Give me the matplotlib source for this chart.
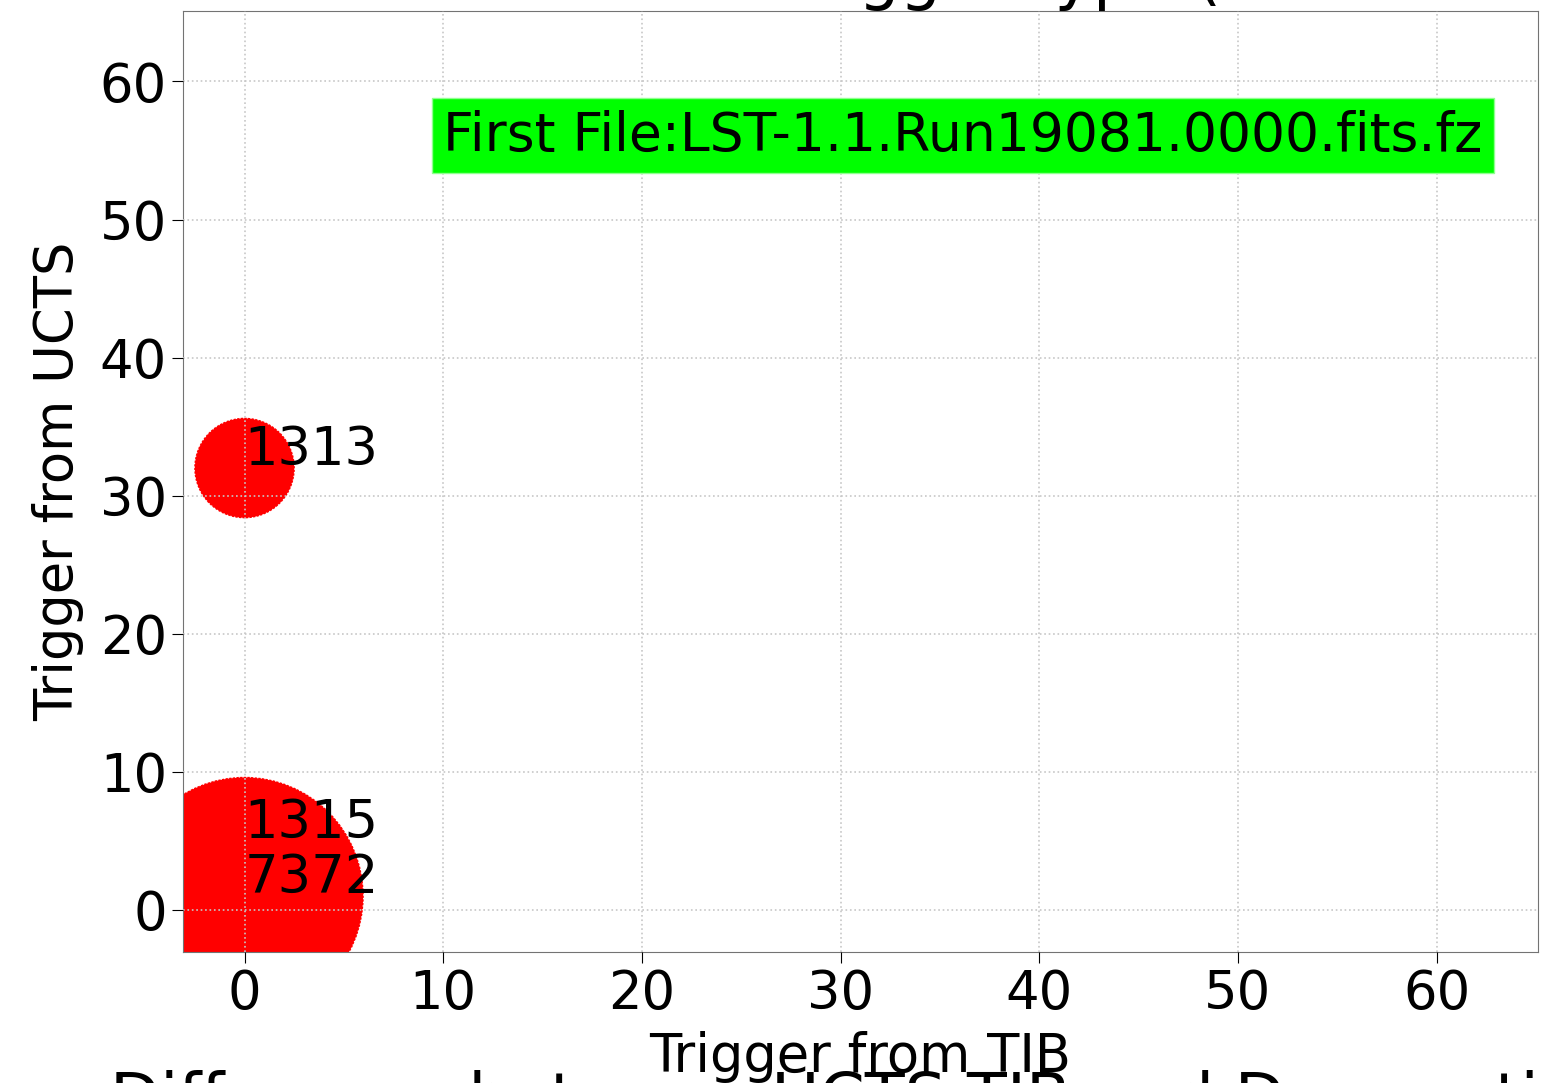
import matplotlib
matplotlib.use("Agg")
import matplotlib.pyplot as plt

# trigger type pairs and how many events had them
tib_trigger = [0, 0, 0]
ucts_trigger = [5, 1, 32]
counts = [1315, 7372, 1313]

first_file = "LST-1.1.Run19081.0000.fits.fz"

fig = plt.figure(figsize=(15.49, 10.83), dpi=100)
ax = fig.add_axes([0.1181, 0.121, 0.8748, 0.8688])

ax.scatter(tib_trigger, ucts_trigger, s=[4 * c for c in counts], c="red",
           edgecolors="white", linewidths=1, linestyle=":", zorder=1)
for x, y, n in zip(tib_trigger, ucts_trigger, counts):
    ax.text(x, y + 0.2, str(n), fontsize=38, zorder=4)

ax.text(10, 55, "First File:" + first_file, fontsize=38.5, zorder=5,
        bbox=dict(facecolor="lime", edgecolor="#90ff90", pad=8))

ax.set_xlim(-3.1, 65.1)
ax.set_ylim(-3.05, 65.1)
ax.set_xticks(range(0, 61, 10))
ax.set_yticks(range(0, 61, 10))
ax.tick_params(labelsize=38, length=8)
ax.grid(True, linestyle=":", color="0.78", linewidth=1.2, zorder=3)
ax.set_axisbelow(False)
for sp in ax.spines.values():
    sp.set_color("0.45")
ax.set_xlabel("Trigger from TIB", fontsize=38, labelpad=8)
ax.set_ylabel("Trigger from UCTS", fontsize=38, labelpad=11)

# titles of the neighbouring panels, cut by the figure edge
fig.text(783 / 1549, 1 + 3 / 1083, "Trigger type (UCTS vs TIB, all events)",
         fontsize=47, va="baseline", ha="left")
fig.text(110 / 1549, -37 / 1083, "Difference between UCTS TIB and Dragon time",
         fontsize=47, va="baseline", ha="left")

fig.savefig("out.png", dpi=100)
